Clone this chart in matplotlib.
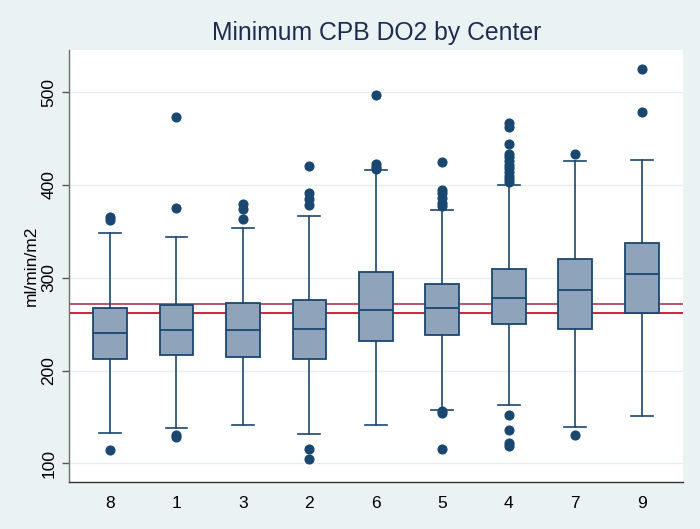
import matplotlib
matplotlib.use("Agg")
import matplotlib.pyplot as plt

plt.rcParams['font.family'] = ['Liberation Sans', 'DejaVu Sans']

centers = ['8', '1', '3', '2', '6', '5', '4', '7', '9']
q1 = [212.8, 216.8, 215.0, 212.8, 231.9, 238.7, 249.9, 244.8, 262.4]
med = [240.2, 243.7, 243.7, 245.1, 265.3, 267.1, 278.2, 286.5, 304.1]
q3 = [267.8, 270.7, 273.2, 276.0, 305.9, 293.0, 309.9, 320.0, 337.9]
whislo = [133.0, 138.0, 141.6, 131.9, 141.6, 157.8, 163.2, 138.8, 151.0]
whishi = [348.0, 344.0, 354.0, 367.0, 416.2, 373.1, 400.0, 426.4, 427.0]
fliers = [
    [114, 362, 366],
    [473, 375, 131, 128.5],
    [380, 374, 363],
    [421, 391, 385, 379, 115.5, 105],
    [497, 423, 419, 417],
    [425, 394.5, 391, 386.5, 381, 377, 156, 154, 115],
    [467, 463, 444, 434, 430, 426, 422, 418, 414, 410, 406, 403, 152.5, 136, 122, 118.5],
    [434, 130.5],
    [525, 479],
]
ref_lines = [271.8, 262.0]
ref_colors = ['#B8475F', '#C8102E']
yticks = [100, 200, 300, 400, 500]

bg = '#EAF2F3'
navy = '#1A476F'
fill = '#8FA3BA'

fig = plt.figure(figsize=(7.0, 5.29), dpi=100, facecolor=bg)
ax = fig.add_axes([69/700, 1-481.7/529, (683.3-69)/700, (481.7-50)/529])
ax.set_facecolor('white')

stats = []
for i, c in enumerate(centers):
    stats.append(dict(label=c, q1=q1[i], med=med[i], q3=q3[i],
                      whislo=whislo[i], whishi=whishi[i], fliers=fliers[i]))

ax.set_axisbelow(True)
ax.grid(axis='y', color='#E6EEF0', linewidth=1.0)
for v, col in zip(ref_lines, ref_colors):
    ax.axhline(v, color=col, linewidth=1.3, zorder=1.5)

pos = list(range(1, len(centers) + 1))
ax.bxp(stats, positions=pos, widths=0.507, capwidths=0.33, patch_artist=True,
       boxprops=dict(facecolor=fill, edgecolor=navy, linewidth=1.3),
       medianprops=dict(color=navy, linewidth=1.3),
       whiskerprops=dict(color=navy, linewidth=1.2),
       capprops=dict(color=navy, linewidth=1.2),
       flierprops=dict(marker='o', markerfacecolor=navy, markeredgecolor=navy,
                       markersize=6.3, linestyle='none'),
       zorder=3)

ax.set_xlim(0.383, 9.626)
ax.set_ylim(80.2, 545.6)
ax.set_yticks(yticks)
ax.set_yticklabels([str(t) for t in yticks], rotation=90, va='center', fontsize=12.5)
ax.set_xticks(pos)
ax.set_xticklabels(centers, fontsize=12.5)
ax.tick_params(axis='x', length=0, pad=10)
ax.tick_params(axis='y', length=5, width=1, color='#555555', pad=4)

for s in ['top', 'right']:
    ax.spines[s].set_visible(False)
ax.spines['left'].set_color('#6E6E6E')
ax.spines['bottom'].set_color('#333333')
ax.spines['left'].set_linewidth(1.0)
ax.spines['bottom'].set_linewidth(1.0)

ax.set_ylabel('ml/min/m2', fontsize=12.5, labelpad=2)
fig.text((69+683.3)/2/700, 1-33/529, 'Minimum CPB DO2 by Center', ha='center', va='center',
         fontsize=17.8, color='#1E2D4F')

fig.savefig('out.png', dpi=100, facecolor=bg)
